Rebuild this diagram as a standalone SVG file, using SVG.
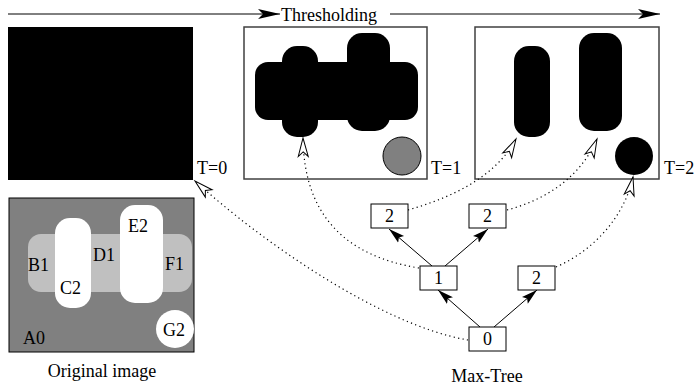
<svg xmlns="http://www.w3.org/2000/svg" width="694" height="385" viewBox="0 0 694 385">
<style>
text{font-family:"Liberation Serif","Times New Roman",serif;font-size:18px;fill:#000}
.c{text-anchor:middle}
.frame{fill:#fff;stroke:#404040;stroke-width:1.5}
.blk{fill:#000}
.node rect{fill:#fff;stroke:#000;stroke-width:1}
.edge{stroke:#000;stroke-width:1;fill:none}
.dot{stroke:#000;stroke-width:1.2;fill:none;stroke-dasharray:1.2 3.3}
</style>
<defs>
<marker id="big" markerUnits="userSpaceOnUse" markerWidth="24" markerHeight="12" refX="22" refY="5" orient="auto">
<path d="M0,0 L22,5 L0,10 L5,5 Z" fill="#000"/>
</marker>
<marker id="fill" markerUnits="userSpaceOnUse" markerWidth="18" markerHeight="12" refX="16" refY="5" orient="auto">
<path d="M0,0.5 L16,5 L0,9.5 L3,5 Z" fill="#000"/>
</marker>
<marker id="open" markerUnits="userSpaceOnUse" markerWidth="22" markerHeight="14" refX="19" refY="6" orient="auto" overflow="visible">
<path d="M0.5,1 L19,6 L0.5,11 L5,6 Z" fill="#fff" stroke="#000" stroke-width="1"/>
</marker>
</defs>

<g id="thresholding">
<path class="edge" d="M8,14 L280,14" marker-end="url(#big)"/>
<text x="281" y="20.5">Thresholding</text>
<path class="edge" d="M390,14 L660,14" marker-end="url(#big)"/>
</g>

<g id="t0">
<rect x="8" y="27" width="185" height="153" class="blk"/>
<text x="197" y="174">T=0</text>
</g>

<g id="t1">
<rect x="244" y="27" width="183" height="152" class="frame"/>
<rect x="255" y="62" width="163" height="58" rx="13" class="blk"/>
<rect x="282" y="46" width="36" height="91" rx="15" class="blk"/>
<rect x="347" y="33" width="43" height="98" rx="15" class="blk"/>
<circle cx="402" cy="156" r="19" fill="#808080" stroke="#000" stroke-width="1"/>
<text x="431" y="174">T=1</text>
</g>

<g id="t2">
<rect x="475" y="27" width="184" height="152" class="frame"/>
<rect x="514" y="46" width="36" height="91" rx="15" class="blk"/>
<rect x="579" y="33" width="43" height="98" rx="15" class="blk"/>
<circle cx="634" cy="156" r="19" class="blk"/>
<text x="664" y="174">T=2</text>
</g>

<g id="original">
<rect x="9" y="198" width="185" height="154" fill="#808080" stroke="#000" stroke-width="1"/>
<rect x="28" y="234" width="164" height="58" rx="13" fill="#c0c0c0"/>
<rect x="55" y="218" width="36" height="90" rx="15" fill="#fff"/>
<rect x="120" y="205" width="43" height="98" rx="15" fill="#fff"/>
<circle cx="175" cy="329" r="19" fill="#fff"/>
<text x="28" y="271">B1</text>
<text x="60" y="294">C2</text>
<text x="93" y="261">D1</text>
<text x="128" y="232">E2</text>
<text x="165" y="270">F1</text>
<text x="163" y="336">G2</text>
<text x="23" y="344">A0</text>
<text x="102" y="377" class="c">Original image</text>
</g>

<g id="connectors">
<path class="edge" d="M480,327 L438,290" marker-end="url(#fill)"/>
<path class="edge" d="M494,327 L537,290" marker-end="url(#fill)"/>
<path class="edge" d="M432,266 L389,229" marker-end="url(#fill)"/>
<path class="edge" d="M445,266 L488,229" marker-end="url(#fill)"/>
<path class="dot" d="M468,340 C380,325 260,240 195,181" marker-end="url(#open)"/>
<path class="dot" d="M419,268 C345,256 304,215 303,138" marker-end="url(#open)"/>
<path class="dot" d="M408,210 C450,198 495,178 516,139" marker-end="url(#open)"/>
<path class="dot" d="M507,210 C545,200 580,178 597,139" marker-end="url(#open)"/>
<path class="dot" d="M556,267 C595,250 625,215 633,177" marker-end="url(#open)"/>
</g>

<g id="n2a" class="node"><rect x="371" y="204" width="37" height="24"/><text x="389.5" y="222" class="c">2</text></g>
<g id="n2b" class="node"><rect x="469" y="204" width="37" height="24"/><text x="487.5" y="222" class="c">2</text></g>
<g id="n1" class="node"><rect x="420" y="266" width="37" height="24"/><text x="438.5" y="284" class="c">1</text></g>
<g id="n2c" class="node"><rect x="518" y="266" width="37" height="24"/><text x="536.5" y="284" class="c">2</text></g>
<g id="n0" class="node"><rect x="469" y="327" width="37" height="24"/><text x="487.5" y="345" class="c">0</text></g>
<text id="maxtree" x="487" y="382" class="c">Max-Tree</text>
</svg>
